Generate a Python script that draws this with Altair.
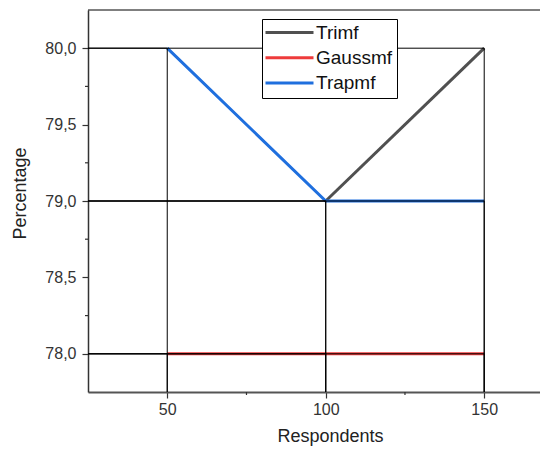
import altair as alt
import pandas as pd

# ---- data ----
series = ["Trimf", "Gaussmf", "Trapmf"]
colors = ["#505050", "#ee3b3b", "#1f6fde"]
trimf_x = [100, 150]
trimf_y = [79.0, 80.0]
gauss_x = [50, 100, 150]
gauss_y = [78.0, 78.0, 78.0]
trap_x = [50, 100, 150]
trap_y = [80.0, 79.0, 79.0]

x_major = [50, 100, 150]
x_minor = [75, 125]
y_major = [78.0, 78.5, 79.0, 79.5, 80.0]
y_minor = [78.25, 78.75, 79.25, 79.75]
x_domain = [25, 167.6]
y_domain = [77.75, 80.25]

W, H = 452, 382
FONT = "Liberation Sans"

rows = []
for name, xs_, ys_ in [("Trimf", trimf_x, trimf_y), ("Gaussmf", gauss_x, gauss_y), ("Trapmf", trap_x, trap_y)]:
    for i, (a, b) in enumerate(zip(xs_, ys_)):
        rows.append({"series": name, "x": a, "y": b, "i": i})
df = pd.DataFrame(rows)

xs = alt.Scale(domain=x_domain, nice=False, zero=False)
ys = alt.Scale(domain=y_domain, nice=False, zero=False)

lines = alt.Chart(df).mark_line(strokeWidth=3).encode(
    x=alt.X("x:Q", scale=xs, axis=alt.Axis(
        values=x_major, format="d", tickSize=6, labelPadding=3, grid=False,
        labelFont=FONT, labelFontSize=16, labelColor="#333",
        domainColor="#555", domainWidth=2, tickColor="#333", tickWidth=1.2,
        title="Respondents", titleFont=FONT, titleFontSize=18, titleFontWeight="normal",
        titleColor="#222", titleX=242, titleY=49, titleBaseline="alphabetic", titleAlign="center")),
    y=alt.Y("y:Q", scale=ys, axis=alt.Axis(
        values=y_major, labelExpr="replace(format(datum.value, '.1f'), '.', ',')",
        tickSize=6, labelPadding=6, grid=False,
        labelFont=FONT, labelFontSize=16, labelColor="#333",
        domainColor="#333", domainWidth=1.5, tickColor="#333", tickWidth=1.2,
        title="Percentage", titleFont=FONT, titleFontSize=18, titleFontWeight="normal",
        titleColor="#222", titleAngle=-90, titleX=-63, titleY=183,
        titleBaseline="alphabetic", titleAlign="center")),
    color=alt.Color("series:N", scale=alt.Scale(domain=series, range=colors),
                    legend=alt.Legend(orient="none", legendX=174, legendY=9, title=None,
                                      strokeColor="black", fillColor="white", padding=4,
                                      symbolType="M-4,0H4", symbolSize=144, symbolStrokeWidth=3,
                                      symbolOffset=14, symbolFillColor="transparent",
                                      labelFont=FONT, labelFontSize=19, labelColor="#111",
                                      labelOffset=17, rowPadding=5.3)),
    order="i:Q",
)

hdrop = alt.Chart(df).mark_rule(color="black", strokeWidth=1).encode(
    x=alt.X("x:Q", scale=xs), x2=alt.value(0),
    y=alt.Y("y:Q", scale=ys))
vdrop = alt.Chart(df).mark_rule(color="black", strokeWidth=1).encode(
    x=alt.X("x:Q", scale=xs),
    y=alt.Y("y:Q", scale=ys), y2=alt.value(H))

yminor = alt.Chart(pd.DataFrame({"v": y_minor})).mark_rule(color="#333", strokeWidth=1.2).encode(
    y=alt.Y("v:Q", scale=ys), x=alt.value(-3), x2=alt.value(0))
xminor = alt.Chart(pd.DataFrame({"v": x_minor})).mark_rule(color="#333", strokeWidth=1.2).encode(
    x=alt.X("v:Q", scale=xs), y=alt.value(H), y2=alt.value(H + 3))
top = alt.Chart(pd.DataFrame({"a": [0]})).mark_rule(color="black", strokeWidth=1).encode(
    x=alt.value(0), x2=alt.value(W), y=alt.value(0))

chart = alt.layer(lines, hdrop, vdrop, yminor, xminor, top).properties(
    width=W, height=H,
    autosize=alt.AutoSizeParams(type="none"),
    padding={"left": 80, "top": 2, "right": 0, "bottom": 54},
).configure_view(stroke=None)

chart.save("out.html", embed_options={"renderer": "svg", "actions": False})
